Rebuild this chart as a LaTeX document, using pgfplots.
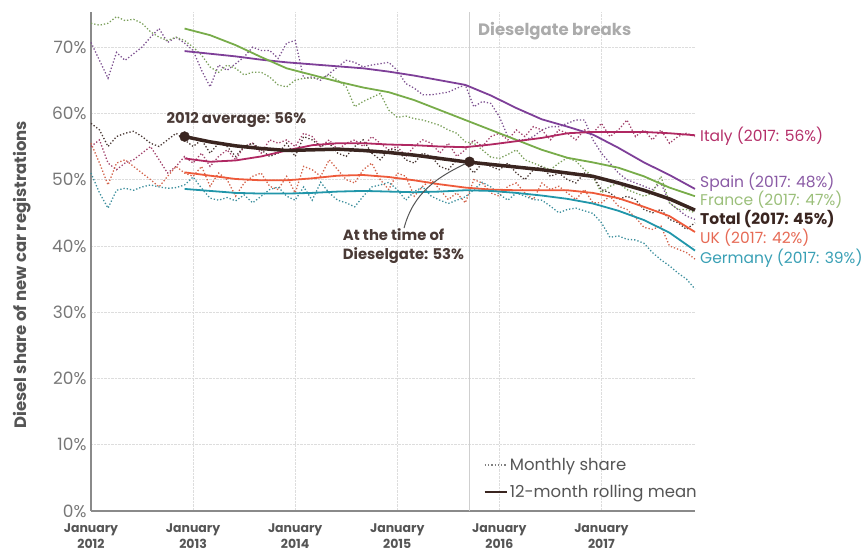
\documentclass[border=0pt]{standalone}
\usepackage{fontspec}
\setmainfont{Poppins}
\usepackage{pgfplots}
\pgfplotsset{compat=1.18}
\usepackage{pgfplotstable}

\definecolor{cSpain}{HTML}{7E3F98}
\definecolor{cFrance}{HTML}{78AC4A}
\definecolor{cItaly}{HTML}{B02862}
\definecolor{cTotal}{HTML}{3A2520}
\definecolor{cUK}{HTML}{EE5A3A}
\definecolor{cGermany}{HTML}{2196AA}
\definecolor{tSpain}{HTML}{8A5AA5}
\definecolor{tFrance}{HTML}{9BBF7A}
\definecolor{tItaly}{HTML}{B5306A}
\definecolor{tUK}{HTML}{E66A55}
\definecolor{tGermany}{HTML}{3AA0B5}
\definecolor{axisgray}{HTML}{8A8A8A}
\definecolor{tickgray}{HTML}{777777}
\definecolor{labgray}{HTML}{555555}
\definecolor{gridgray}{HTML}{DDDDDD}
\definecolor{dgline}{HTML}{CFCFCF}
\definecolor{dgtext}{HTML}{ABABAB}
\definecolor{annot}{HTML}{4A3A36}

\pgfplotstableread{
m S F I T U G
0 70.7 73.6 55.0 58.5 55.5 51.0
1 68.0 73.3 56.0 57.5 52.5 48.0
2 65.3 73.6 52.5 55.0 49.2 45.7
3 69.2 74.6 51.5 56.5 52.5 48.4
4 68.0 74.0 52.5 57.0 53.0 48.7
5 69.0 74.2 53.0 57.3 52.0 48.4
6 70.0 73.6 54.0 56.5 51.0 48.9
7 71.5 72.3 55.0 55.5 50.0 49.2
8 72.8 71.5 53.0 55.0 48.9 48.9
9 70.7 71.0 51.0 56.0 50.5 48.7
10 71.5 71.5 52.0 57.0 52.0 48.8
11 70.6 71.0 53.5 56.0 51.0 49.2
12 69.5 70.0 52.5 55.0 50.5 50.4
13 66.5 68.8 54.0 56.0 52.0 48.7
14 64.0 67.0 52.0 54.0 49.0 47.2
15 67.3 66.2 53.5 55.5 51.0 46.9
16 66.5 67.3 54.5 55.0 50.0 47.3
17 67.5 66.8 53.0 53.5 47.5 46.8
18 68.5 65.8 55.0 55.0 49.5 47.7
19 70.0 66.2 55.5 55.5 50.5 46.5
20 69.5 66.2 54.0 54.5 51.0 47.5
21 69.5 65.5 56.0 53.5 49.0 48.5
22 68.3 64.3 55.5 54.0 48.5 48.9
23 70.6 64.0 56.0 55.5 50.5 47.5
24 71.0 65.0 55.0 53.5 48.0 46.9
25 65.3 65.3 57.0 56.5 52.0 48.9
26 65.5 65.3 56.5 56.0 51.5 46.9
27 65.0 65.3 55.0 55.0 50.5 49.6
28 66.0 65.8 56.0 55.5 53.0 48.0
29 67.0 65.0 54.5 54.0 51.5 46.9
30 68.0 64.0 55.5 53.5 50.0 46.5
31 67.7 61.0 56.0 55.0 49.5 45.9
32 67.0 61.8 55.0 56.0 51.5 47.5
33 67.3 62.4 56.5 54.0 52.5 48.9
34 67.5 63.0 55.5 53.0 50.0 49.2
35 67.7 60.5 54.5 54.5 48.5 49.6
36 66.5 59.4 55.0 54.5 51.0 48.5
37 64.5 59.6 53.5 53.0 50.5 46.9
38 63.8 59.2 55.0 52.5 47.5 48.2
39 62.8 59.0 56.0 54.0 49.0 48.9
40 62.8 58.6 55.5 53.5 50.0 47.5
41 63.0 58.2 54.0 52.0 48.5 46.9
42 63.2 57.5 55.5 51.5 47.0 46.4
43 63.8 57.0 53.5 53.0 48.0 46.9
44 64.3 55.7 54.5 52.5 46.5 47.4
45 61.0 55.5 56.0 51.0 50.0 48.5
46 61.8 54.5 55.0 52.5 49.5 49.6
47 61.5 53.4 56.5 52.0 48.0 48.9
48 59.5 53.2 57.0 51.5 47.5 47.8
49 56.5 53.8 56.0 52.5 49.0 46.9
50 56.0 54.5 57.5 51.0 49.5 48.0
51 56.0 53.0 56.5 50.0 48.0 47.5
52 56.5 52.5 58.0 51.5 47.0 47.0
53 57.5 52.0 57.5 52.0 49.5 46.9
54 58.0 51.5 56.0 50.5 48.5 46.0
55 58.0 52.5 57.5 51.0 49.0 45.0
56 58.5 53.3 57.0 50.0 48.0 45.5
57 59.0 52.8 56.0 49.5 47.0 45.7
58 59.0 51.5 57.5 51.0 48.5 45.3
59 56.0 50.5 57.0 50.5 46.5 44.9
60 54.0 48.0 58.5 48.5 46.5 43.5
61 52.5 49.0 56.5 48.0 47.5 41.3
62 51.0 49.5 57.5 47.0 46.0 41.5
63 50.0 48.5 59.0 47.5 45.5 41.0
64 49.5 48.0 56.5 47.0 44.3 40.9
65 49.0 47.5 57.5 45.5 42.8 40.4
66 48.5 48.0 56.0 45.0 42.5 39.0
67 49.5 50.5 57.5 45.5 43.0 37.9
68 46.5 46.5 55.5 44.0 40.0 37.0
69 45.5 45.5 56.5 43.5 39.5 35.9
70 44.5 45.5 57.0 42.5 39.0 35.0
71 44.0 45.0 56.5 43.5 38.0 33.5
}\monthly

\pgfplotstableread{
m S F I T U G
11 69.4 72.8 53.2 56.5 51.1 48.6
14 69.0 71.8 52.7 55.7 50.6 48.3
17 68.6 70.3 52.9 55.1 50.1 48.0
20 68.1 68.5 53.5 54.7 49.9 47.9
23 67.7 66.8 54.4 54.4 49.9 47.9
26 67.4 65.8 55.2 54.5 50.2 48.0
29 67.1 64.8 55.5 54.6 50.6 48.2
32 66.8 63.9 55.5 54.4 50.7 48.3
35 66.3 63.2 55.3 54.1 50.4 48.2
38 65.7 62.0 55.2 53.7 49.9 48.1
41 65.0 60.5 55.0 53.2 49.3 48.2
44 64.3 59.0 54.9 52.7 48.8 48.4
47 62.7 57.5 55.3 52.3 48.5 48.3
50 60.8 56.0 55.8 51.9 48.4 48.0
53 59.1 54.5 56.3 51.5 48.4 47.6
56 58.0 53.3 57.0 51.0 48.4 47.1
59 56.8 52.6 57.2 50.5 48.0 46.4
62 54.8 51.8 57.2 49.5 47.2 45.3
65 52.6 50.5 57.2 48.4 45.9 43.9
68 50.7 48.8 57.0 47.1 44.5 42.0
71 48.6 47.5 56.7 45.4 42.1 39.3
}\rolling

\begin{document}
\begin{tikzpicture}
\path[use as bounding box] (0,0) rectangle (861pt,553pt);
\begin{axis}[
  at={(91pt,42pt)}, anchor=south west,
  scale only axis, width=604pt, height=499pt,
  xmin=0, xmax=71, ymin=0, ymax=75.3,
  clip=false,
  axis lines*=left,
  axis line style={-, draw=axisgray, line width=1.3pt},
  ytick={0,10,...,70}, xtick={0,12,24,36,48,60},
  xticklabels={January\\2012,January\\2013,January\\2014,January\\2015,January\\2016,January\\2017},
  major tick length=0pt,
  grid=major, grid style={densely dotted, gridgray, line width=0.8pt},
  /pgf/number format/assume math mode=true,
  yticklabel={\pgfmathprintnumber{\tick}\%},
  yticklabel style={text=tickgray, font=\fontsize{17}{20}\selectfont, xshift=-1pt},
  xticklabel style={text=labgray, align=center, font=\bfseries\fontsize{12.5}{16.5}\selectfont, yshift=-9pt},
  ylabel={Diesel share of new car registrations},
  ylabel style={at={(axis description cs:-0.114,0.473)}, anchor=center, text=labgray, font=\bfseries\fontsize{16.5}{19}\selectfont},
  legend style={draw=none, fill=none, at={(axis cs:46.1,8.3)}, anchor=north west, font=\fontsize{16.5}{19}\selectfont, text=labgray, row sep=9pt, inner sep=0pt},
  legend cell align=left,
  legend image code/.code={\draw[#1] (0pt,0pt) -- (22pt,0pt);},
]
% Dieselgate line
\addplot[forget plot, dgline, line width=1.3pt] coordinates {(44.5,0) (44.5,75.3)};

% monthly shares
\addplot[forget plot, dotted, line width=1.3pt, cSpain!70!gray] table[x=m,y=S] {\monthly};
\addplot[forget plot, dotted, line width=1.3pt, cFrance!70!gray] table[x=m,y=F] {\monthly};
\addplot[forget plot, dotted, line width=1.3pt, cItaly!70!gray] table[x=m,y=I] {\monthly};
\addplot[forget plot, dotted, line width=1.3pt, cUK!75!gray] table[x=m,y=U] {\monthly};
\addplot[forget plot, dotted, line width=1.3pt, cGermany!70!gray] table[x=m,y=G] {\monthly};
\addplot[forget plot, dotted, line width=1.3pt, cTotal!80!gray] table[x=m,y=T] {\monthly};

% rolling means
\addplot[forget plot, cSpain, line width=1.8pt, line join=round] table[x=m,y=S] {\rolling};
\addplot[forget plot, cFrance, line width=1.8pt, line join=round] table[x=m,y=F] {\rolling};
\addplot[forget plot, cItaly, line width=1.8pt, line join=round] table[x=m,y=I] {\rolling};
\addplot[forget plot, cUK, line width=1.8pt, line join=round] table[x=m,y=U] {\rolling};
\addplot[forget plot, cGermany, line width=1.8pt, line join=round] table[x=m,y=G] {\rolling};
\addplot[forget plot, cTotal, line width=3.5pt, line join=round] table[x=m,y=T] {\rolling};

% highlighted points
\addplot[forget plot, only marks, mark=*, mark size=5pt, cTotal] coordinates {(11,56.5) (44.5,52.7)};

% annotations
\draw[labgray, line width=1pt] (axis cs:44.5,52.7) to[out=205,in=75] (axis cs:36.8,42.7);
\node[anchor=center, text=annot, font=\bfseries\fontsize{14.8}{17}\selectfont] at (axis cs:17.1,59.0) {2012 average: 56\%};
\node[anchor=west, align=left, text=annot, font=\bfseries\fontsize{14.8}{18.5}\selectfont] at (axis cs:29.2,40.0) {At the time of\\Dieselgate: 53\%};
\node[anchor=west, text=dgtext, font=\bfseries\fontsize{16.5}{19}\selectfont] at (axis cs:45.1,72.4) {Dieselgate breaks};

% end labels
\node[anchor=west, text=tItaly, font=\fontsize{15.5}{18}\selectfont] at (axis cs:71.2,56.6) {Italy (2017: 56\%)};
\node[anchor=west, text=tSpain, font=\fontsize{15.5}{18}\selectfont] at (axis cs:71.2,49.6) {Spain (2017: 48\%)};
\node[anchor=west, text=tFrance, font=\fontsize{15.5}{18}\selectfont] at (axis cs:71.2,46.9) {France (2017: 47\%)};
\node[anchor=west, text=cTotal, font=\bfseries\fontsize{15.5}{18}\selectfont] at (axis cs:71.2,44.0) {Total (2017: 45\%)};
\node[anchor=west, text=tUK, font=\fontsize{15.5}{18}\selectfont] at (axis cs:71.2,41.2) {UK (2017: 42\%)};
\node[anchor=west, text=tGermany, font=\fontsize{15.5}{18}\selectfont] at (axis cs:71.2,38.2) {Germany (2017: 39\%)};

% legend
\addlegendimage{dotted, line width=1.3pt, gray}
\addlegendentry{Monthly share}
\addlegendimage{cTotal, line width=2.5pt}
\addlegendentry{12-month rolling mean}
\end{axis}
\end{tikzpicture}
\end{document}
